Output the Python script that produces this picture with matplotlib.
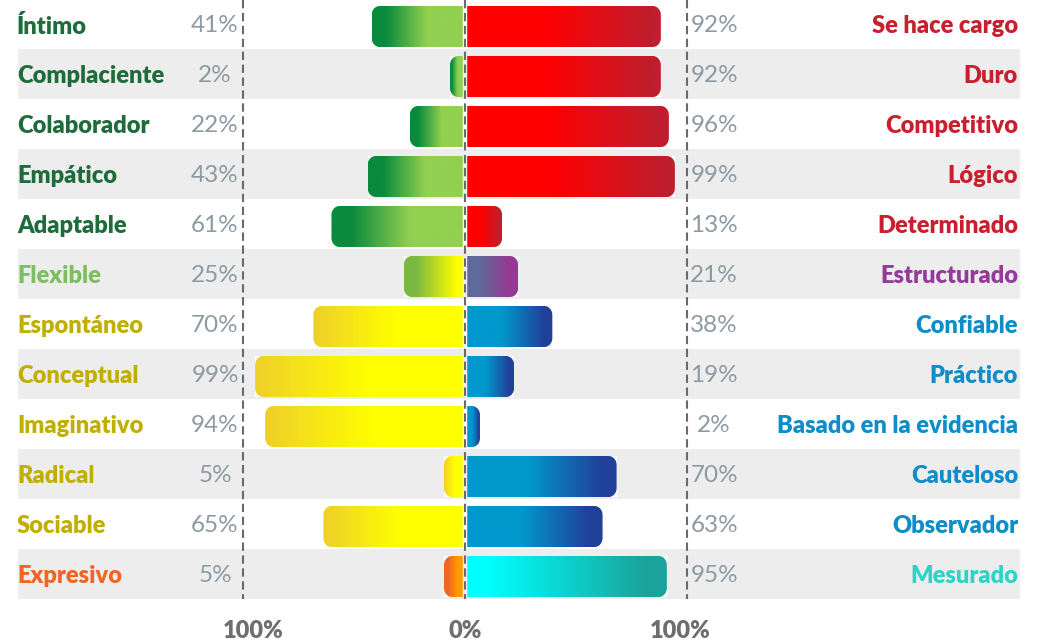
import numpy as np
import matplotlib
matplotlib.use("Agg")
from matplotlib import pyplot as plt
from matplotlib.path import Path
from matplotlib.patches import PathPatch, Rectangle
from matplotlib.colors import LinearSegmentedColormap

# datos
left_labels = ['Íntimo', 'Complaciente', 'Colaborador', 'Empático', 'Adaptable', 'Flexible',
               'Espontáneo', 'Conceptual', 'Imaginativo', 'Radical', 'Sociable', 'Expresivo']
left_vals = [41, 2, 22, 43, 61, 25, 70, 99, 94, 5, 65, 5]
right_labels = ['Se hace cargo', 'Duro', 'Competitivo', 'Lógico', 'Determinado', 'Estructurado',
                'Confiable', 'Práctico', 'Basado en la evidencia', 'Cauteloso', 'Observador', 'Mesurado']
right_vals = [92, 92, 96, 99, 13, 21, 38, 19, 2, 70, 63, 95]
left_groups = ['green'] * 5 + ['flex'] + ['yellow'] * 5 + ['orange']
right_groups = ['red'] * 5 + ['purple'] + ['blue'] * 5 + ['cyan']

# gradientes: posicion 0 = centro, 1 = extremo de la barra
grads = {
    'green': [(0, '#92D050'), (0.4, '#92D050'), (0.85, '#0A8A3C'), (1, '#0A8A3C')],
    'flex': [(0, '#FFFF00'), (0.1, '#FFFF00'), (0.8, '#7AB843'), (1, '#7AB843')],
    'yellow': [(0, '#FFFF00'), (0.45, '#FFFF00'), (1, '#EFCF2B')],
    'orange': [(0, '#FF9A00'), (0.3, '#FF9A00'), (0.75, '#F26522'), (1, '#F26522')],
    'red': [(0, '#FF0000'), (0.4, '#FF0000'), (0.95, '#BF1E2E'), (1, '#BF1E2E')],
    'purple': [(0, '#5F6A9B'), (0.25, '#5F6A9B'), (0.8, '#943A92'), (1, '#943A92')],
    'blue': [(0, '#0099CC'), (0.4, '#0099CC'), (0.9, '#21409A'), (1, '#21409A')],
    'cyan': [(0, '#00FFFF'), (0.1, '#00FFFF'), (0.9, '#1AA39A'), (1, '#1AA39A')],
}
left_colors = ['#1E6B3B'] * 5 + ['#7DBF5F'] + ['#C0AE00'] * 5 + ['#F26522']
right_colors = ['#C8202E'] * 5 + ['#933A9A'] + ['#0E8DC8'] * 5 + ['#2DD4C6']

PX = 2.22          # pixeles por unidad (%)
SCALE = 0.905      # las barras son algo mas cortas que las guias del 100%
CAP = 4.95
GAP = 1.0
RX, RY = 8 / PX, 0.18
BH = 0.82

fig = plt.figure(figsize=(10.4, 6.44), dpi=100)
ax = fig.add_axes([0, 0, 1, 1])
ax.set_xlim(-465 / PX, 575 / PX)
ax.set_ylim(12.4, -0.48)
ax.axis('off')

n = len(left_labels)
for i in range(n):
    if i % 2 == 1:
        ax.add_patch(Rectangle((-201.4, i - 0.5), 451.4, 1, color='#EDEDED', lw=0, zorder=0))


def bar_path(x0, x1, yc, side):
    # rectangulo con el extremo exterior redondeado
    L = abs(x1 - x0)
    rx = min(RX, L)
    ry = RY
    yt, yb = yc - BH / 2, yc + BH / 2
    t = np.linspace(0, np.pi / 2, 12)
    s = 1 if side > 0 else -1
    xe = x1 - s * rx
    pts = [(x0, yt), (xe, yt)]
    pts += [(xe + s * rx * np.sin(a), yt + ry - ry * np.cos(a)) for a in t]
    pts += [(x1, yb - ry)]
    pts += [(xe + s * rx * np.cos(a), yb - ry + ry * np.sin(a)) for a in t]
    pts += [(x0, yb), (x0, yt)]
    return Path(pts, closed=True)


def draw_bar(v, yc, side, group):
    x0 = side * GAP
    x1 = side * (CAP + SCALE * v)
    cmap = LinearSegmentedColormap.from_list(group, grads[group])
    g = np.linspace(0, 1, 256)
    if side < 0:
        g = g[::-1]
    lo, hi = min(x0, x1), max(x0, x1)
    ax.add_patch(Rectangle((lo, yc - BH / 2), hi - lo, BH, color='white', lw=0, zorder=1))
    patch = PathPatch(bar_path(x0, x1, yc, side), facecolor='none', edgecolor='none', zorder=2)
    ax.add_patch(patch)
    im = ax.imshow(cmap(g)[None, :, :], extent=(lo, hi, yc + BH / 2, yc - BH / 2),
                   aspect='auto', interpolation='bilinear', zorder=2)
    im.set_clip_path(patch)


for i in range(n):
    yc = i + 0.05
    draw_bar(left_vals[i], yc, -1, left_groups[i])
    draw_bar(right_vals[i], yc, 1, right_groups[i])

for x in (-100, 0, 100):
    ax.plot([x, x], [-0.48, 11.5], color='#6A6A6A', lw=1.5, ls=(0, (4, 2.2)), zorder=5)

font = 'Lato'
for i in range(n):
    ty = i + 0.04
    ax.text(-201.8, ty, left_labels[i], ha='left', va='center', fontsize=17,
            fontweight='heavy', color=left_colors[i], family=font)
    ax.text(249.1, ty, right_labels[i], ha='right', va='center', fontsize=17,
            fontweight='heavy', color=right_colors[i], family=font)
    ax.text(-112.6, ty, f'{left_vals[i]}%', ha='center', va='center', fontsize=17.5,
            color='#8C9AA3', family=font)
    ax.text(112.2, ty, f'{right_vals[i]}%', ha='center', va='center', fontsize=17.5,
            color='#8C9AA3', family=font)

for x, t in ((-95.5, '100%'), (0, '0%'), (96.8, '100%')):
    ax.text(x, 12.14, t, ha='center', va='center', fontsize=17, fontweight='heavy',
            color='#6E6E6E', family=font)

fig.savefig('out.png', dpi=100)
